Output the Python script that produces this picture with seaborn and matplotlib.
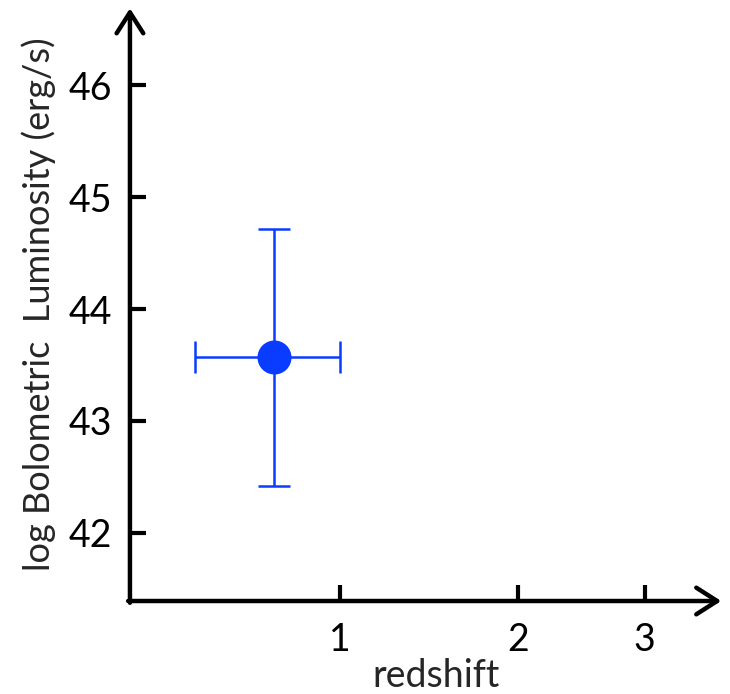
import numpy as np
import pandas as pd
import matplotlib
matplotlib.use("Agg")
import matplotlib.pyplot as plt
import seaborn as sns

# data
redshift = [0.72]
redshift_err = [0.28]
log_lbol = [43.57]
log_lbol_err = [1.15]
x_ticks = [1, 2, 3]
y_ticks = [42, 43, 44, 45, 46]

df = pd.DataFrame({"z": redshift, "L": log_lbol})

sns.set_style("white")
plt.rcParams['font.family'] = ['Lato', 'DejaVu Sans']

fig = plt.figure(figsize=(7.3, 6.94), dpi=100)
ax = fig.add_axes([0.178, 0.134, 0.81, 0.854])

blue = "#0a3cff"
ax.errorbar(redshift, log_lbol, xerr=redshift_err, yerr=log_lbol_err,
            fmt="none", ecolor=blue, elinewidth=1.8, capsize=11.5, capthick=1.8, zorder=2)
sns.scatterplot(data=df, x="z", y="L", ax=ax, s=600, color=blue,
                edgecolor=blue, linewidth=0, zorder=3, legend=False)

# x axis is log(1+z)
ax.set_xscale('function', functions=(lambda z: np.log10(1 + z), lambda u: 10 ** u - 1))
ax.set_xlim(0.241, 3.76)
ax.set_ylim(41.39, 46.69)

ax.set_xticks(x_ticks)
ax.set_xticklabels([str(t) for t in x_ticks])
ax.set_yticks(y_ticks)
ax.set_yticklabels([str(t) for t in y_ticks])
ax.minorticks_off()

ax.tick_params(axis='both', direction='in', length=11.5, width=3, color='black',
               labelsize=27, labelcolor='black', bottom=True, left=True)
ax.tick_params(axis='x', pad=15)
ax.tick_params(axis='y', pad=13)

for s in ax.spines.values():
    s.set_visible(False)

# arrows instead of spines
arrow = dict(arrowstyle="->,head_length=0.5,head_width=0.32", lw=3.2, color="black",
             mutation_scale=30, shrinkA=0, shrinkB=0)
ax.annotate("", xy=(1.0, 0), xytext=(-0.003, 0), xycoords="axes fraction",
            arrowprops=arrow, annotation_clip=False)
ax.annotate("", xy=(0, 1.0), xytext=(0, -0.003), xycoords="axes fraction",
            arrowprops=arrow, annotation_clip=False)

ax.set_xlabel("redshift", fontsize=27)
ax.xaxis.set_label_coords(0.518, -0.096)
ax.set_ylabel("log Bolometric  Luminosity (erg/s)", fontsize=26, labelpad=9)

fig.savefig("out.png", dpi=100)
